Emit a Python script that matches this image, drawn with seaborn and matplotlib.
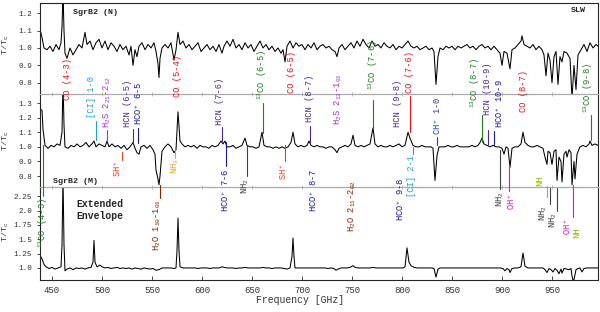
import pandas as pd
import seaborn as sns
import matplotlib.pyplot as plt
from matplotlib.transforms import blended_transform_factory

# SgrB2 (N), SLW spectrum (top panel)
n_freq = [438, 440, 442, 445, 448, 451, 454, 457, 459, 460,
          461, 462, 463, 465, 468, 471, 474, 477, 480, 483,
          485, 488, 491, 494, 497, 500, 503, 506, 509, 512,
          515, 518, 521, 524, 527, 529, 531, 533, 535, 537,
          540, 543, 546, 549, 552, 554, 556, 557, 558, 560,
          563, 566, 569, 572, 574, 576, 578, 581, 584, 587,
          590, 593, 596, 599, 602, 605, 608, 611, 614, 617,
          620, 622, 625, 628, 631, 634, 637, 640, 643, 646,
          649, 652, 655, 658, 661, 664, 667, 670, 673, 676,
          679, 681, 683, 685, 688, 691, 694, 697, 700, 703,
          706, 709, 712, 715, 718, 721, 724, 727, 730, 733,
          735, 737, 740, 743, 746, 749, 752, 755, 758, 761,
          764, 767, 770, 773, 776, 779, 782, 785, 788, 791,
          794, 797, 800, 803, 806, 809, 812, 815, 818, 821,
          824, 827, 830, 832, 834, 836, 838, 841, 844, 847,
          850, 853, 856, 859, 862, 865, 868, 871, 874, 877,
          880, 883, 886, 889, 892, 895, 898, 900, 902, 905,
          908, 910, 913, 916, 919, 920, 922, 925, 928, 931,
          934, 937, 940, 942, 944, 946, 948, 950, 952, 954,
          956, 958, 960, 962, 965, 968, 970, 972, 974, 976,
          979, 982, 985, 988, 991, 994, 996]
n_tt = [1.11, 1.06, 1.00, 0.99, 1.01, 0.98, 1.02, 0.99, 1.03, 1.12,
        1.32, 1.10, 0.97, 0.94, 1.00, 0.96, 0.99, 1.02, 1.00, 1.09,
        1.02, 1.04, 0.99, 1.03, 1.05, 1.00, 1.04, 0.99, 1.03, 1.01,
        0.98, 1.02, 0.99, 1.01, 0.96, 1.01, 0.90, 0.99, 0.95, 1.01,
        1.03, 0.99, 1.02, 1.00, 1.03, 0.98, 0.91, 0.83, 0.94, 1.00,
        1.02, 1.00, 1.03, 0.93, 0.99, 1.09, 1.02, 1.04, 1.00, 1.02,
        0.99, 1.01, 1.03, 0.98, 1.00, 1.02, 0.99, 1.01, 0.98, 1.02,
        0.97, 1.01, 1.04, 1.01, 1.05, 1.00, 1.02, 0.99, 1.03, 1.00,
        1.02, 0.98, 1.01, 1.04, 1.00, 1.02, 0.99, 1.01, 0.98, 1.00,
        0.97, 0.99, 0.92, 1.01, 1.04, 1.00, 1.03, 1.01, 1.02, 0.99,
        1.02, 1.00, 1.03, 0.99, 1.01, 1.02, 1.00, 1.01, 0.99, 0.98,
        0.95, 1.00, 1.02, 0.99, 1.01, 1.03, 1.00, 1.04, 1.01, 1.05,
        1.02, 1.00, 1.04, 1.01, 1.02, 1.00, 1.03, 1.01, 1.00, 1.02,
        0.99, 1.01, 1.00, 1.02, 1.04, 1.01, 1.00, 1.01, 0.99, 1.00,
        1.01, 0.99, 1.00, 0.98, 0.79, 0.95, 1.00, 0.99, 1.01, 1.00,
        1.01, 0.99, 1.01, 1.00, 1.01, 1.02, 1.00, 1.01, 0.99, 1.01,
        1.02, 1.00, 1.01, 0.99, 1.01, 0.99, 0.97, 0.90, 0.98, 0.97,
        0.88, 0.99, 1.00, 1.02, 1.04, 1.07, 1.02, 1.01, 1.00, 1.02,
        0.99, 1.01, 0.99, 0.96, 0.84, 0.97, 0.93, 0.80, 0.95, 0.98,
        0.79, 0.95, 0.92, 0.98, 0.97, 0.94, 0.71, 0.90, 0.76, 0.96,
        0.99, 1.02, 0.98, 1.03, 1.00, 1.02, 1.01]

# SgrB2 (M) spectrum (middle panel)
m_freq = [438, 440, 441, 443, 446, 449, 452, 455, 458, 460,
          461, 462, 463, 466, 469, 472, 475, 478, 481, 484,
          487, 490, 492, 494, 497, 500, 503, 505, 507, 510,
          513, 516, 519, 522, 525, 528, 531, 533, 535, 537,
          539, 542, 545, 548, 551, 553, 554, 556, 557, 558,
          560, 563, 566, 569, 572, 574, 576, 578, 580, 583,
          586, 589, 592, 595, 598, 601, 604, 607, 610, 613,
          616, 619, 621, 623, 625, 628, 631, 634, 637, 640,
          643, 645, 648, 651, 654, 657, 660, 662, 665, 668,
          671, 674, 677, 680, 683, 686, 689, 691, 693, 696,
          699, 702, 705, 707, 709, 712, 715, 718, 721, 724,
          727, 730, 733, 735, 737, 740, 743, 746, 749, 751,
          753, 756, 759, 762, 765, 768, 771, 773, 776, 779,
          782, 785, 788, 791, 794, 797, 800, 803, 806, 808,
          811, 814, 817, 820, 823, 826, 829, 831, 833, 835,
          837, 840, 843, 846, 849, 852, 855, 858, 861, 864,
          867, 870, 873, 876, 878, 880, 882, 885, 888, 891,
          894, 897, 900, 902, 904, 906, 908, 910, 913, 916,
          919, 921, 923, 926, 929, 932, 935, 938, 941, 943,
          945, 946, 948, 950, 952, 954, 955, 957, 959, 960,
          962, 964, 965, 967, 969, 970, 972, 973, 975, 978,
          981, 984, 987, 988, 990, 993, 996]
m_tt = [1.26, 1.25, 1.12, 1.01, 0.99, 1.01, 1.00, 1.02, 1.01, 1.10,
        1.45, 1.15, 1.00, 0.99, 1.01, 1.00, 1.02, 1.00, 1.01, 1.03,
        1.00, 1.02, 1.04, 1.00, 1.02, 1.01, 1.00, 1.04, 1.00, 1.02,
        1.00, 1.01, 0.99, 1.01, 0.98, 1.00, 1.03, 0.99, 0.96, 0.95,
        1.00, 1.01, 0.99, 1.01, 0.98, 0.95, 0.84, 0.78, 0.74, 0.80,
        0.97, 1.00, 1.02, 1.00, 0.96, 0.98, 1.24, 1.04, 1.02, 1.00,
        1.01, 1.00, 1.01, 0.99, 1.01, 1.00, 1.00, 0.99, 1.01, 1.00,
        1.01, 1.04, 1.02, 1.04, 1.00, 1.00, 1.01, 0.99, 1.00, 1.01,
        1.06, 1.01, 1.00, 1.00, 0.99, 1.00, 1.10, 1.01, 1.00, 1.00,
        0.99, 1.00, 0.99, 1.00, 0.99, 1.00, 1.03, 1.10, 1.02, 1.00,
        1.01, 1.00, 1.01, 1.04, 1.01, 1.00, 1.01, 1.00, 1.00, 0.99,
        1.00, 1.00, 0.98, 0.96, 0.99, 1.00, 1.01, 1.00, 1.02, 1.08,
        1.01, 1.00, 1.01, 1.00, 1.01, 1.02, 1.13, 1.02, 1.00, 1.01,
        1.00, 1.00, 1.01, 1.00, 1.01, 1.02, 1.00, 1.01, 1.10, 1.06,
        1.01, 1.00, 1.00, 1.01, 1.00, 1.00, 1.00, 0.99, 0.77, 0.94,
        1.00, 1.00, 1.00, 1.01, 1.00, 1.00, 1.01, 1.00, 1.00, 1.00,
        1.00, 1.01, 1.00, 1.01, 1.03, 1.06, 1.02, 1.01, 1.00, 1.01,
        1.00, 1.00, 0.99, 0.95, 1.00, 0.99, 0.86, 0.99, 1.00, 1.00,
        1.02, 1.10, 1.03, 1.01, 1.00, 1.00, 1.01, 1.00, 0.99, 0.93,
        0.88, 0.97, 0.96, 0.88, 0.97, 0.98, 0.77, 0.93, 0.90, 0.76,
        0.95, 0.97, 0.93, 0.98, 0.96, 0.74, 0.90, 0.78, 0.95, 1.00,
        1.01, 1.00, 1.02, 1.04, 1.01, 1.02, 1.01]

# Extended envelope spectrum (bottom panel)
e_freq = [438, 440, 442, 444, 447, 450, 453, 456, 459, 460,
          461, 462, 463, 465, 468, 471, 474, 477, 480, 483,
          486, 489, 491, 492, 493, 495, 498, 500, 503, 506,
          509, 512, 515, 518, 521, 524, 527, 530, 533, 536,
          539, 542, 545, 548, 551, 554, 557, 560, 563, 566,
          569, 572, 574, 575, 576, 577, 578, 581, 584, 587,
          590, 593, 596, 599, 602, 605, 608, 611, 614, 617,
          620, 622, 625, 628, 631, 634, 637, 640, 643, 646,
          649, 652, 655, 658, 661, 664, 667, 670, 673, 676,
          679, 682, 685, 688, 690, 691, 692, 693, 696, 699,
          702, 705, 708, 711, 714, 717, 720, 723, 726, 729,
          732, 734, 736, 739, 742, 745, 748, 751, 753, 756,
          759, 762, 765, 768, 771, 774, 777, 780, 783, 786,
          789, 792, 795, 798, 801, 803, 805, 807, 809, 812,
          815, 818, 821, 824, 827, 830, 832, 834, 836, 838,
          841, 844, 847, 850, 853, 856, 859, 862, 865, 868,
          871, 874, 877, 880, 883, 886, 889, 892, 895, 898,
          901, 903, 905, 907, 908, 910, 913, 916, 919, 921,
          923, 926, 929, 932, 935, 938, 941, 943, 945, 947,
          949, 951, 953, 955, 957, 959, 960, 962, 965, 967,
          969, 970, 971, 972, 974, 976, 978, 980, 982, 985,
          988, 991, 994, 996]
e_tt = [1.22, 1.16, 1.06, 1.02, 0.99, 1.01, 0.98, 1.00, 1.02, 1.40,
        2.60, 1.40, 0.95, 0.98, 1.00, 0.97, 1.00, 0.99, 1.00, 0.98,
        1.00, 1.01, 1.10, 1.48, 1.10, 1.02, 1.05, 1.02, 1.00, 1.01,
        0.99, 1.00, 1.01, 0.99, 1.00, 0.99, 1.00, 0.98, 1.00, 0.99,
        0.98, 1.00, 0.99, 0.98, 0.99, 0.96, 0.97, 1.00, 1.00, 1.00,
        1.00, 0.99, 1.00, 1.30, 1.87, 1.30, 1.02, 1.00, 1.00, 1.00,
        1.00, 1.00, 0.99, 1.00, 1.00, 1.00, 0.99, 1.00, 1.00, 1.00,
        1.02, 1.01, 1.00, 1.00, 1.00, 0.99, 1.00, 1.00, 1.01, 1.00,
        1.00, 1.00, 1.00, 1.00, 1.01, 1.00, 1.00, 0.99, 1.00, 1.00,
        1.00, 0.99, 0.98, 1.00, 1.20, 1.52, 1.20, 1.00, 1.00, 1.00,
        1.00, 1.00, 1.00, 1.00, 1.00, 1.00, 1.00, 1.00, 0.99, 1.00,
        0.99, 0.96, 0.98, 1.00, 1.00, 1.00, 1.01, 1.04, 1.01, 1.00,
        1.00, 1.00, 1.00, 1.00, 1.01, 1.00, 1.00, 1.00, 1.00, 1.00,
        1.00, 1.00, 1.00, 1.00, 1.00, 1.02, 1.35, 1.10, 1.04, 1.01,
        1.00, 1.00, 1.00, 1.00, 1.00, 1.00, 0.99, 0.84, 0.98, 1.00,
        1.00, 1.00, 1.00, 1.00, 1.00, 1.00, 1.00, 1.00, 1.00, 1.00,
        1.00, 1.00, 1.00, 1.00, 1.00, 1.00, 1.00, 1.00, 1.00, 1.00,
        0.99, 0.95, 0.99, 0.97, 0.92, 0.99, 1.00, 1.00, 1.02, 1.26,
        1.03, 1.00, 1.00, 1.00, 1.00, 1.00, 1.00, 0.97, 0.92, 0.99,
        0.97, 0.93, 0.99, 0.96, 0.90, 0.98, 0.91, 0.99, 0.98, 0.97,
        0.99, 0.86, 0.78, 0.80, 0.97, 0.99, 1.00, 0.93, 0.99, 1.00,
        1.00, 1.00, 1.00, 1.00]

# line identifications: text, frequency of the text, colour
RED, CYAN, PURPLE, INDIGO, BLUE = '#e8101c', '#1e9fd8', '#a030d0', '#4b2890', '#1a1a9c'
GREEN, SHRED, ORANGE, DGRAY = '#1e7d1e', '#e8401c', '#e8a020', '#404040'
BROWN, MAGENTA, LIME, CHBLUE = '#8b2000', '#e01aa0', '#8cc000', '#2a3ab0'

up_text = ['CO (4-3)', '[CI] 1-0', 'H$_2$S 2$_{21}$-2$_{12}$', 'HCN (6-5)', 'HCO$^+$ 6-5',
           'CO (5-4)', 'HCN (7-6)', '$^{13}$CO (6-5)', 'CO (6-5)', 'HCN (8-7)',
           'H$_2$S 2$_{12}$-1$_{01}$', '$^{13}$CO (7-6)', 'HCN (9-8)', 'CO (7-6)', 'CH$^+$ 1-0',
           '$^{13}$CO (8-7)', 'HCN (10-9)', 'HCO$^+$ 10-9', 'CO (8-7)', '$^{13}$CO (9-8)']
up_freq = [466, 490, 505, 526, 536, 576, 618, 660, 690, 707,
           736, 771, 795, 808, 835, 873, 886, 897, 921, 986]
up_color = [RED, CYAN, PURPLE, INDIGO, BLUE, RED, INDIGO, GREEN, RED, INDIGO,
            PURPLE, GREEN, INDIGO, RED, CHBLUE, GREEN, INDIGO, BLUE, RED, GREEN]
# layout (pixels from top): text bottom, tick line x, tick line y0, y1
up_ybot = [100, 118, 128, 127, 125, 97, 125, 100, 93, 122,
           125, 90, 127, 93, 135, 108, 115, 128, 112, 113]
up_line = [None, (494, 121, 140), (505, 130, 141), (531, 129, 143), (536, 128, 143),
           None, (620, 127, 141), (661, 103, 133), None, (708, 126, 143),
           None, (771, 100, 128), None, (808, 96, 132), (835, 137, 145),
           (880, 115, 142), (886, 130, 145), (892, 131, 145), None, (989, 115, 140)]

dn_text = ['SH$^+$', 'NH$_3$', 'HCO$^+$ 7-6', 'NH$_2$', 'SH$^+$', 'HCO$^+$ 8-7',
           'H$_2$O 2$_{11}$-2$_{02}$', 'HCO$^+$ 9-8', '[CI] 2-1', 'NH$_2$', 'OH$^+$', 'NH',
           'NH$_2$', 'NH$_2$', 'OH$^+$', 'NH', '$^{13}$CO (4-3)', 'H$_2$O 1$_{10}$-1$_{01}$']
dn_freq = [515, 573, 623, 643, 681, 711, 750, 798, 809, 898, 909, 938,
           941, 951, 965, 975, 441, 555]
dn_color = [SHRED, ORANGE, BLUE, DGRAY, SHRED, BLUE, BROWN, BLUE, CYAN, DGRAY, MAGENTA, LIME,
            DGRAY, DGRAY, MAGENTA, LIME, GREEN, BROWN]
dn_ytop = [160, 158, 168, 178, 163, 168, 180, 177, 155, 191, 193, 175,
           205, 212, 218, 228, 198, 199]
dn_line = [(520, 152, 160), (573, 150, 158), (624, 142, 166), (645, 145, 176), (683, 145, 161),
           None, None, None, (811, 147, 154), (898, 150, 189), (907, 165, 191), (945, 186, 197),
           (948, 188, 204), (955, 188, 211), (971, 185, 217), None, (441, 145, 196), (558, 185, 198)]

x_ticks = [450, 500, 550, 600, 650, 700, 750, 800, 850, 900, 950]
n_yticks = [0.8, 0.9, 1.0, 1.1, 1.2]
m_yticks = [0.8, 0.9, 1.0, 1.1, 1.2, 1.3]
e_yticks = [1.0, 1.25, 1.5, 1.75, 2.0, 2.25]
e_ylabels = ['1.0', '1.25', '1.5', '1.75', '2.0', '2.25']

sns.set_style("ticks")
plt.rcParams['font.family'] = ['Liberation Mono', 'DejaVu Sans']
plt.rcParams['mathtext.fontset'] = 'custom'
plt.rcParams['mathtext.rm'] = 'Liberation Mono'
plt.rcParams['mathtext.it'] = 'Liberation Mono'
plt.rcParams['mathtext.bf'] = 'Liberation Mono:bold'

W, H = 600, 312
fig = plt.figure(figsize=(6, 3.12), dpi=100)
L, Wd = 40 / W, 558 / W
ax_n = fig.add_axes([L, 1 - 94 / H, Wd, 91 / H])
ax_m = fig.add_axes([L, 1 - 187 / H, Wd, 93 / H], sharex=ax_n)
ax_e = fig.add_axes([L, 1 - 280 / H, Wd, 93 / H], sharex=ax_n)
ax_m.set_zorder(3)

panels = [(ax_n, n_freq, n_tt, (0.735, 1.259), n_yticks, [f'{v:.1f}' for v in n_yticks]),
          (ax_m, m_freq, m_tt, (0.725, 1.362), m_yticks, [f'{v:.1f}' for v in m_yticks]),
          (ax_e, e_freq, e_tt, (0.79, 2.41), e_yticks, e_ylabels)]
sep = '#aaaaaa'
for ax, f, t, ylim, yt, yl in panels:
    ax.patch.set_visible(False)
    df = pd.DataFrame({'freq': f, 'tt': t})
    sns.lineplot(data=df, x='freq', y='tt', ax=ax, color='black', lw=0.75,
                 estimator=None, sort=False)
    ax.set_xlabel('')
    ax.set_ylabel('')
    ax.set_xlim(438, 996)
    ax.set_ylim(*ylim)
    ax.set_yticks(yt)
    ax.set_yticklabels(yl)
    ax.set_xticks(x_ticks)
    ax.tick_params(axis='y', direction='out', length=2.5, width=0.6, pad=3,
                   labelsize=5.5, labelcolor='#333333')
    for s in ax.spines.values():
        s.set_linewidth(0.8)

ax_n.spines['bottom'].set_color(sep)
ax_m.spines['top'].set_color(sep)
ax_m.spines['bottom'].set_color(sep)
ax_e.spines['top'].set_color(sep)
for ax in (ax_n, ax_m):
    ax.tick_params(axis='x', direction='inout', length=3, width=0.6, color=sep,
                   labelbottom=False)
ax_e.tick_params(axis='x', direction='in', length=3, width=0.6, pad=4,
                 labelsize=6.5, labelcolor='#333333')

# identification labels, drawn on a blend of frequency and figure pixels
tr = blended_transform_factory(ax_m.transData, fig.transFigure)
for txt, fq, col, yb, ln in zip(up_text, up_freq, up_color, up_ybot, up_line):
    ax_m.text(fq, 1 - yb / H, txt, transform=tr, rotation=90, ha='center',
              va='bottom', color=col, fontsize=6.3, clip_on=False, zorder=5)
    if ln is not None:
        ax_m.plot([ln[0], ln[0]], [1 - ln[1] / H, 1 - ln[2] / H], transform=tr,
                  color=col, lw=0.8, clip_on=False, zorder=5)
for txt, fq, col, yt, ln in zip(dn_text, dn_freq, dn_color, dn_ytop, dn_line):
    ax_m.text(fq, 1 - yt / H, txt, transform=tr, rotation=90, ha='center',
              va='top', color=col, fontsize=6.3, clip_on=False, zorder=5)
    if ln is not None:
        ax_m.plot([ln[0], ln[0]], [1 - ln[1] / H, 1 - ln[2] / H], transform=tr,
                  color=col, lw=0.8, clip_on=False, zorder=5)

fig.text(73 / W, 1 - 12 / H, 'SgrB2 (N)', fontsize=6, fontweight='bold', va='center')
fig.text(586 / W, 1 - 11 / H, 'SLW', fontsize=6, fontweight='bold', va='center', ha='right')
fig.text(53 / W, 1 - 181 / H, 'SgrB2 (M)', fontsize=6, fontweight='bold', va='center')
fig.text(76 / W, 1 - 204 / H, 'Extended', fontsize=7, fontweight='bold', va='center')
fig.text(76 / W, 1 - 216 / H, 'Envelope', fontsize=7, fontweight='bold', va='center')
for yc in (45, 141, 232):
    fig.text(6 / W, 1 - yc / H, 'T/T$_c$', rotation=90, fontsize=6,
             va='center', ha='center', color='#333333')
fig.text(300 / W, 1 - 300 / H, 'Frequency [GHz]', fontsize=7, ha='center',
         va='center', color='#333333')

fig.savefig('out.png', dpi=100, facecolor='white')
